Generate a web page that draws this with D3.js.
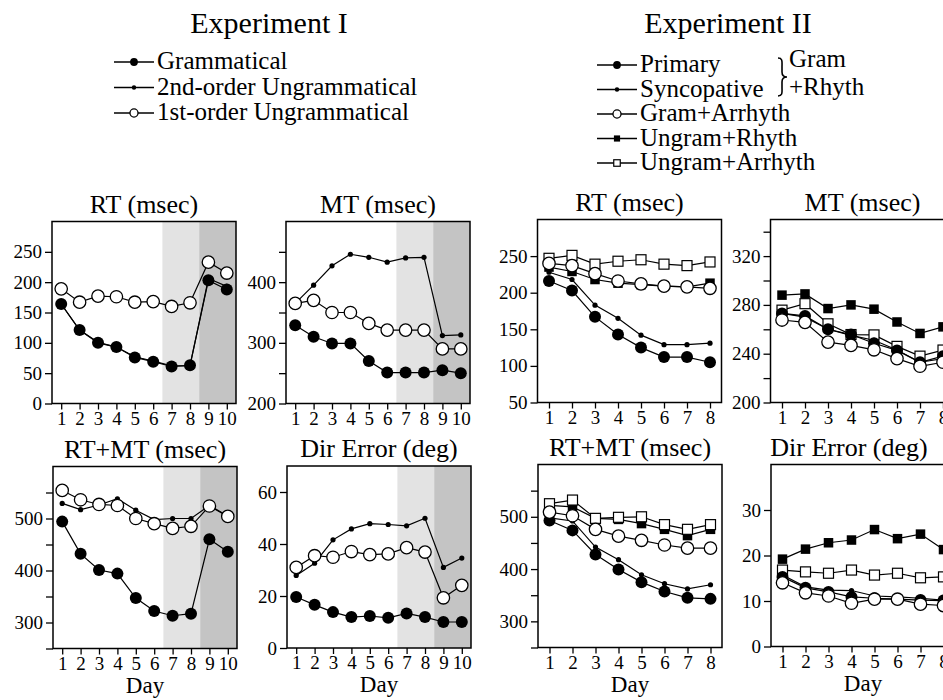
<!DOCTYPE html>
<html>
<head>
<meta charset="utf-8">
<script src="https://cdn.jsdelivr.net/npm/d3@7"></script>
<style>
  body { margin: 0; background: #fff; }
  svg { display: block; font-family: "Liberation Serif", "Times New Roman", serif; }
</style>
</head>
<body>
<div id="chart"></div>
<script>
// days
const daysI = [1, 2, 3, 4, 5, 6, 7, 8, 9, 10];
const daysII = [1, 2, 3, 4, 5, 6, 7, 8];

// Experiment I values
const rtGram = [164, 121, 100, 93, 76, 69, 61, 63, 203, 188];
const rtSecond = [164, 121, 101, 93, 77, 70, 62, 62, 206, 193];
const rtFirst = [189, 167, 177, 176, 167, 168, 160, 166, 233, 215];

const mtGram = [329, 310, 299, 299, 270, 251, 251, 251, 255, 250];
const mtSecond = [365, 395, 427, 446, 441, 433, 440, 441, 312, 313];
const mtFirst = [365, 370, 350, 350, 332, 321, 321, 321, 290, 290];

const rtmtGram = [494, 432, 401, 394, 347, 322, 313, 317, 460, 436];
const rtmtSecond = [529, 517, 526, 538, 516, 498, 500, 500, 525, 505];
const rtmtFirst = [554, 536, 527, 525, 500, 490, 481, 485, 524, 504];

const dirGram = [19.6, 16.6, 13.8, 11.9, 12.3, 11.6, 13.3, 11.9, 10, 10];
const dirSecond = [27.9, 32.6, 41.6, 45.8, 47.8, 47.5, 47, 49.9, 31, 34.6];
const dirFirst = [31, 35.5, 34.9, 37.1, 35.9, 36.2, 38.6, 36.9, 19.3, 24.1];

// Experiment II values
const rt2Primary = [216, 203, 167, 143, 125, 112, 112, 105];
const rt2Sync = [228, 218, 183, 165, 142, 129, 129, 131];
const rt2GramArr = [240, 237, 226, 216, 212, 209, 208, 206];
const rt2UngRhy = [235, 229, 218, 213, 211, 209, 208, 213];
const rt2UngArr = [247, 251, 239, 243, 245, 239, 237, 242];

const mt2Primary = [273, 271, 260, 255.7, 248.6, 242.7, 233, 238];
const mt2Sync = [273, 270, 260, 255, 251, 243, 233, 236];
const mt2GramArr = [267.6, 265.7, 249.5, 246.8, 243.2, 236, 229.7, 233];
const mt2UngRhy = [288, 289, 277, 280, 276.5, 266, 256.6, 262];
const mt2UngArr = [275.7, 281, 264.5, 255.7, 255.4, 246, 238, 243];

const rtmt2Primary = [493, 474, 428, 399, 375, 357, 345, 343];
const rtmt2Sync = [498, 492, 442, 418, 389, 372, 362, 370];
const rtmt2GramArr = [509, 502, 476, 463, 455, 446, 440, 440];
const rtmt2UngRhy = [522, 519, 497, 495, 487, 476, 464, 476];
const rtmt2UngArr = [525, 532, 497, 499, 500, 485, 476, 485];

const dir2Primary = [15.3, 12.9, 12.0, 10.9, 10.6, 10.4, 10.2, 10.1];
const dir2Sync = [15.7, 13.1, 12.4, 12.3, 11.1, 10.9, 10.6, 10.2];
const dir2GramArr = [14.0, 11.8, 11.1, 9.5, 10.4, 10.4, 9.3, 9.0];
const dir2UngRhy = [19.2, 21.4, 22.8, 23.4, 25.7, 23.7, 24.7, 21.3];
const dir2UngArr = [16.8, 16.4, 16.1, 16.8, 15.7, 16.1, 15.1, 15.3];

const legendI = ["Grammatical", "2nd-order Ungrammatical", "1st-order Ungrammatical"];
const legendII = ["Primary", "Syncopative", "Gram+Arrhyth", "Ungram+Rhyth", "Ungram+Arrhyth"];

const svg = d3.select("#chart").append("svg")
  .attr("width", 943)
  .attr("height", 700);

function drawMarker(g, type, cx, cy, small) {
  const k = small ? 0.65 : 1;
  if (type === "filled") {
    g.append("circle").attr("cx", cx).attr("cy", cy).attr("r", 6 * k).attr("fill", "black");
  } else if (type === "dot") {
    g.append("circle").attr("cx", cx).attr("cy", cy).attr("r", 2.6 * (small ? 0.85 : 1)).attr("fill", "black");
  } else if (type === "open") {
    g.append("circle").attr("cx", cx).attr("cy", cy).attr("r", 6.2 * k)
      .attr("fill", "white").attr("stroke", "black").attr("stroke-width", 1.3);
  } else if (type === "sq") {
    const s = 9.5 * k;
    g.append("rect").attr("x", cx - s / 2).attr("y", cy - s / 2).attr("width", s).attr("height", s).attr("fill", "black");
  } else if (type === "osq") {
    const s = 10 * k;
    g.append("rect").attr("x", cx - s / 2).attr("y", cy - s / 2).attr("width", s).attr("height", s)
      .attr("fill", "white").attr("stroke", "black").attr("stroke-width", 1.2);
  }
}

function drawPanel(p) {
  const g = svg.append("g").attr("transform", `translate(${p.x}, ${p.y})`);
  const x = d3.scaleLinear().domain([0.5, p.days.length + 0.5]).range([0, p.w]);
  const y = d3.scaleLinear().domain(p.yDomain).range([p.h, 0]);

  if (p.shade) {
    g.append("rect").attr("x", x(6.5)).attr("y", 0)
      .attr("width", x(8.5) - x(6.5)).attr("height", p.h).attr("fill", "#e3e3e3");
    g.append("rect").attr("x", x(8.5)).attr("y", 0)
      .attr("width", x(10.5) - x(8.5)).attr("height", p.h).attr("fill", "#c4c4c4");
  }

  g.append("rect").attr("width", p.w).attr("height", p.h)
    .attr("fill", "none").attr("stroke", "black").attr("stroke-width", 1.5);

  const yAxis = g.append("g")
    .call(d3.axisLeft(y).tickValues(p.yTicks).tickSize(7).tickPadding(3)
      .tickFormat((d) => (p.yLabels.includes(d) ? d : "")));
  const xAxis = g.append("g").attr("transform", `translate(0, ${p.h})`)
    .call(d3.axisBottom(x).tickValues(p.days).tickSize(6).tickPadding(2).tickFormat(d3.format("d")));
  [yAxis, xAxis].forEach((a) => {
    a.select(".domain").remove();
    a.selectAll("line").attr("stroke-width", 1.3);
    a.selectAll("text").attr("font-family", "Liberation Serif").attr("font-size", 19).attr("fill", "black");
  });

  g.append("text").attr("x", p.w / 2 + (p.titleDx || 0)).attr("y", -9)
    .attr("text-anchor", "middle").attr("font-size", 26).text(p.title);

  if (p.dayLabel) {
    g.append("text").attr("x", p.w / 2).attr("y", p.h + 44)
      .attr("text-anchor", "middle").attr("font-size", 23).text("Day");
  }

  const line = d3.line().x((d, i) => x(p.days[i])).y((d) => y(d));
  p.series.forEach((s) => {
    g.append("path").attr("d", line(s.values))
      .attr("fill", "none").attr("stroke", "black").attr("stroke-width", 1.2);
  });
  p.series.forEach((s) => {
    s.values.forEach((v, i) => drawMarker(g, s.type, x(p.days[i]), y(v), false));
  });
}

const W = 184;
const H = 182;
const yTicks = (a, b, step) => d3.range(a, b + 0.001, step);

// Experiment I
drawPanel({
  x: 52, y: 221.5, w: W, h: H, title: "RT (msec)", days: daysI, shade: true,
  yDomain: [0, 300], yTicks: yTicks(0, 250, 50), yLabels: yTicks(0, 250, 50),
  series: [{ values: rtSecond, type: "dot" }, { values: rtGram, type: "filled" }, { values: rtFirst, type: "open" }],
});
drawPanel({
  x: 286, y: 221.5, w: W, h: H, title: "MT (msec)", days: daysI, shade: true,
  yDomain: [200, 500], yTicks: yTicks(200, 450, 50), yLabels: [200, 300, 400],
  series: [{ values: mtSecond, type: "dot" }, { values: mtGram, type: "filled" }, { values: mtFirst, type: "open" }],
});
drawPanel({
  x: 53, y: 466.5, w: W, h: H, title: "RT+MT (msec)", days: daysI, shade: true, dayLabel: true,
  yDomain: [250, 600], yTicks: yTicks(250, 550, 50), yLabels: [300, 400, 500],
  series: [{ values: rtmtSecond, type: "dot" }, { values: rtmtGram, type: "filled" }, { values: rtmtFirst, type: "open" }],
});
drawPanel({
  x: 287, y: 466, w: W, h: H, title: "Dir Error (deg)", days: daysI, shade: true, dayLabel: true,
  yDomain: [0, 70], yTicks: [0, 20, 40, 60], yLabels: [0, 20, 40, 60],
  series: [{ values: dirSecond, type: "dot" }, { values: dirGram, type: "filled" }, { values: dirFirst, type: "open" }],
});

// Experiment II
const seriesII = (pr, sy, ga, ur, ua) => [
  { values: ur, type: "sq" }, { values: ua, type: "osq" },
  { values: pr, type: "filled" }, { values: sy, type: "dot" }, { values: ga, type: "open" },
];
drawPanel({
  x: 537.5, y: 219.5, w: W, h: 183, title: "RT (msec)", days: daysII,
  yDomain: [50, 300], yTicks: yTicks(50, 250, 50), yLabels: yTicks(50, 250, 50),
  series: seriesII(rt2Primary, rt2Sync, rt2GramArr, rt2UngRhy, rt2UngArr),
});
drawPanel({
  x: 770.5, y: 219.5, w: W, h: 183, title: "MT (msec)", days: daysII,
  yDomain: [200, 350], yTicks: yTicks(200, 340, 20), yLabels: [200, 240, 280, 320],
  series: seriesII(mt2Primary, mt2Sync, mt2GramArr, mt2UngRhy, mt2UngArr),
});
drawPanel({
  x: 538, y: 464.5, w: W, h: 183, title: "RT+MT (msec)", days: daysII, dayLabel: true,
  yDomain: [250, 600], yTicks: yTicks(250, 550, 50), yLabels: [300, 400, 500],
  series: seriesII(rtmt2Primary, rtmt2Sync, rtmt2GramArr, rtmt2UngRhy, rtmt2UngArr),
});
drawPanel({
  x: 771, y: 464.5, w: W, h: 182, title: "Dir Error (deg)", days: daysII, dayLabel: true, titleDx: -14,
  yDomain: [0, 40], yTicks: [0, 10, 20, 30], yLabels: [0, 10, 20, 30],
  series: seriesII(dir2Primary, dir2Sync, dir2GramArr, dir2UngRhy, dir2UngArr),
});

// headings and legends
svg.append("text").attr("x", 269).attr("y", 33).attr("text-anchor", "middle")
  .attr("font-size", 30).text("Experiment I");
svg.append("text").attr("x", 728).attr("y", 33).attr("text-anchor", "middle")
  .attr("font-size", 30).text("Experiment II");

function legendRow(type, label, lx, ly) {
  const g = svg.append("g");
  g.append("line").attr("x1", lx).attr("x2", lx + 40).attr("y1", ly - 7).attr("y2", ly - 7)
    .attr("stroke", "black").attr("stroke-width", 1.3);
  drawMarker(g, type, lx + 20, ly - 7, true);
  g.append("text").attr("x", lx + 43).attr("y", ly).attr("font-size", 25).text(label);
}

const typesI = ["filled", "dot", "open"];
legendI.forEach((label, i) => legendRow(typesI[i], label, 114, 69 + i * 25.5));

const typesII = ["filled", "dot", "open", "sq", "osq"];
legendII.forEach((label, i) => legendRow(typesII[i], label, 597, 72 + i * 24.5));

// curly brace joining Primary and Syncopative
const bx = 778, bt = 58, bb = 96, bm = (bt + bb) / 2;
svg.append("path")
  .attr("d", `M${bx},${bt} C${bx + 5},${bt} ${bx + 4},${bt + 4} ${bx + 4},${bt + 9} L${bx + 4},${bm - 5}
    C${bx + 4},${bm - 1} ${bx + 6},${bm} ${bx + 9},${bm} C${bx + 6},${bm} ${bx + 4},${bm + 1} ${bx + 4},${bm + 5}
    L${bx + 4},${bb - 9} C${bx + 4},${bb - 4} ${bx + 5},${bb} ${bx},${bb}`)
  .attr("fill", "none").attr("stroke", "black").attr("stroke-width", 1.6);
svg.append("text").attr("x", 789).attr("y", 67).attr("font-size", 25).text("Gram");
svg.append("text").attr("x", 789).attr("y", 95).attr("font-size", 25).text("+Rhyth");
</script>
</body>
</html>
